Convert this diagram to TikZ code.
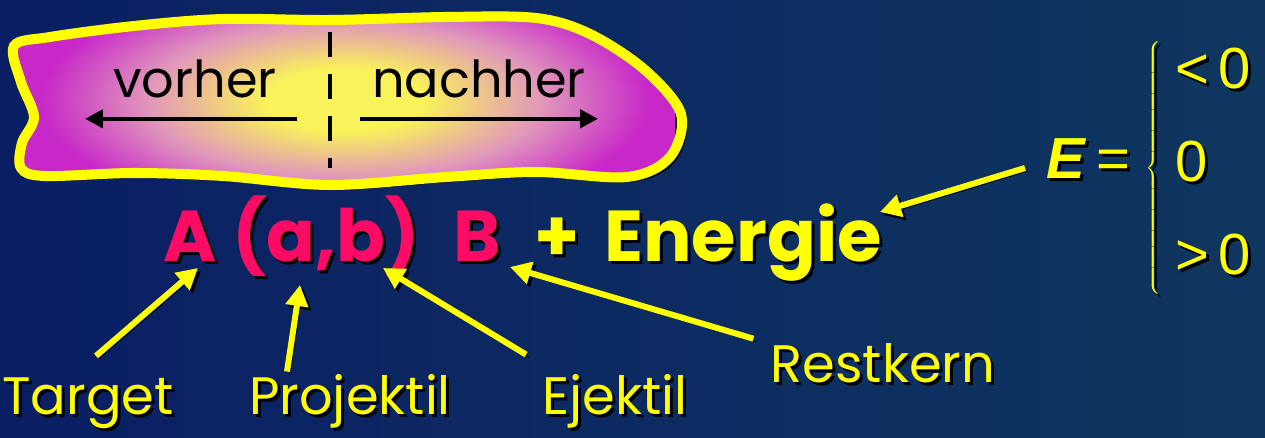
\documentclass[tikz,border=0pt]{standalone}
\usepackage{fontspec}
\setmainfont{Poppins}
\newfontfamily\gleichungfont{Liberation Sans}
\usetikzlibrary{arrows.meta,calc,positioning}
\definecolor{BgDark}{HTML}{0A1E64}
\definecolor{BgLight}{HTML}{0F375F}
\definecolor{Gelb}{HTML}{FFFF00}
\definecolor{Rosa}{HTML}{FF0A64}
\definecolor{BlobGelb}{HTML}{FAF25A}
\definecolor{BlobRosa}{HTML}{E096BC}
\definecolor{BlobMagenta}{HTML}{C828C8}
\pgfdeclareradialshading{blob}{\pgfpoint{0bp}{0bp}}{color(0bp)=(BlobGelb);color(6bp)=(BlobGelb);color(15bp)=(BlobRosa);color(23bp)=(BlobMagenta);color(50bp)=(BlobMagenta)}
\tikzset{lbl/.style={font=\fontsize{30}{36}\selectfont,text=Gelb,inner sep=0pt,anchor=base},formel/.style={font=\fontsize{41}{48}\selectfont\bfseries,inner sep=0pt,anchor=base},zeit/.style={font=\fontsize{29}{34}\selectfont,text=black,inner sep=0pt,anchor=base},gleichung/.style={font=\gleichungfont\fontsize{33}{38}\selectfont,text=Gelb,inner sep=0pt,anchor=west},ptr/.style={-{Triangle[length=0.42cm,width=0.44cm]},line width=3.4pt,draw=Gelb,preaction={draw=black,transform canvas={shift={(3,3)}}}},zeitpfeil/.style={-{Triangle[length=0.36cm,width=0.36cm]},line width=2.6pt,draw=black}}
\newcommand\schatten[4]{\node[#1,text=black,shift={(3,3)}] at (#3) {#4};\node[#1] (#2) at (#3) {#4};}
\newcommand\blobpfad{plot[smooth cycle,tension=0.55] coordinates{(14,46) (50,37) (134,26) (223,19) (330,20) (446,17) (536,18) (590,34) (645,70) (681,114) (670,157) (627,177) (536,172) (446,177) (330,185) (223,176) (134,173) (45,176) (21,168) (22,143) (34,117) (21,82)}}

\begin{document}
\begin{tikzpicture}[x=0.02cm,y=-0.02cm]
      \useasboundingbox (0,0) rectangle (1265,438);
      \shade[left color=BgDark,right color=BgLight] (0,0) rectangle (1265,438);
      \fill[black,shift={(5,5)}] \blobpfad;
      \begin{scope}
        \clip \blobpfad;
        \shade[shading=blob] (15,-30) rectangle (675,230);
      \end{scope}
      \draw[Gelb,line width=5.7pt] \blobpfad;
      \node[zeit] (vorher) at (195,98) {vorher};
      \node[zeit] (nachher) at (479,98) {nachher};
      \coordinate (mitteOben) at (330,32);\coordinate (mitteUnten) at (330,168);
      \draw[black,line width=2.6pt,dash pattern=on 0.5cm off 0.34cm] (mitteOben) -- (mitteUnten);
      \draw[zeitpfeil] ([shift={(102,20)}]vorher.south) -- ([shift={(-110,20)}]vorher.south);
      \draw[zeitpfeil] ([shift={(-119,20)}]nachher.south) -- ([shift={(119,20)}]nachher.south);
      \schatten{formel,text=Rosa}{nA}{190,262}{A}
      \schatten{formel,text=Rosa}{nab}{326,262}{(a,b)}
      \schatten{formel,text=Rosa}{nB}{477,262}{B}
      \schatten{formel,text=Gelb}{nplus}{557,262}{+}
      \schatten{formel,text=Gelb}{nenergie}{743,262}{Energie}
      \schatten{lbl}{target}{88,415}{Target}
      \schatten{lbl}{projektil}{350,415}{Projektil}
      \schatten{lbl}{ejektil}{615,415}{Ejektil}
      \schatten{lbl}{restkern}{883,383}{Restkern}
      \schatten{gleichung}{eq}{1046,168}{\textbf{\textit{E}}\,=\hspace{9pt}$\left\{\begin{tabular}{@{\hspace{8pt}}l@{}}<\,0\\[15pt]0\\[15pt]>\,0\end{tabular}\right.$}
      \coordinate (spitzeA) at (198,268);\coordinate (spitzeab) at (300,285);\coordinate (spitzeb) at (383,268);
      \coordinate (spitzeB) at (510,267);\coordinate (spitzeE) at (880,212);
      \draw[ptr] ([shift={(8,-22)}]target.north) -- (spitzeA);
      \draw[ptr] ([shift={(-63,-3)}]projektil.north) -- (spitzeab);
      \draw[ptr] ([shift={(-89,-20)}]ejektil.north) -- (spitzeb);
      \draw[ptr] ([shift={(-17,-5)}]restkern.north west) -- (spitzeB);
      \draw[ptr] ([shift={(-21,0)}]eq.west) -- (spitzeE);
    \end{tikzpicture}
\end{document}
